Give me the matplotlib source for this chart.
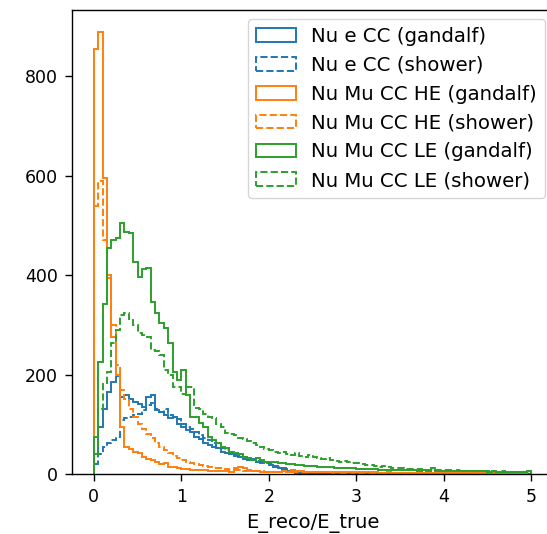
import matplotlib
matplotlib.use('Agg')
import matplotlib.pyplot as plt
import numpy as np

# 100 bins of width 0.05 between 0 and 5
bin_edges = np.linspace(0, 5, 101)

nue_gandalf = [
    40, 95, 130, 165, 185, 198, 155, 158, 150, 145,
    140, 135, 155, 158, 128, 125, 118, 112, 115, 100,
    95, 88, 85, 75, 70, 62, 58, 55, 52, 45,
    42, 40, 36, 35, 30, 28, 28, 25, 22, 25,
    18, 15, 12, 8, 6, 4, 3, 2, 2, 1,
    1, 1, 0, 1, 0, 0, 0, 0, 0, 0,
    0, 0, 0, 0, 0, 0, 0, 0, 0, 0,
    0, 0, 0, 0, 0, 0, 0, 0, 0, 0,
    0, 0, 0, 0, 0, 0, 0, 0, 0, 0,
    0, 0, 0, 0, 0, 0, 0, 0, 0, 0,
]
nue_shower = [
    20, 40, 55, 62, 68, 75, 108, 112, 115, 118,
    120, 128, 138, 142, 130, 125, 130, 118, 115, 110,
    100, 95, 90, 85, 78, 72, 68, 62, 55, 52,
    48, 45, 40, 38, 35, 32, 30, 26, 24, 22,
    20, 16, 14, 12, 10, 8, 6, 5, 4, 3,
    2, 2, 1, 1, 1, 0, 0, 0, 0, 0,
    0, 0, 0, 0, 0, 0, 0, 0, 0, 0,
    0, 0, 0, 0, 0, 0, 0, 0, 0, 0,
    0, 0, 0, 0, 0, 0, 0, 0, 0, 0,
    0, 0, 0, 0, 0, 0, 0, 0, 0, 0,
]
numu_he_gandalf = [
    855, 890, 595, 400, 275, 200, 95, 55, 50, 45,
    42, 35, 30, 28, 25, 20, 22, 15, 15, 12,
    10, 10, 9, 9, 8, 8, 7, 7, 6, 6,
    6, 5, 12, 14, 13, 8, 6, 6, 5, 5,
    5, 5, 5, 6, 5, 8, 7, 6, 5, 5,
    5, 5, 5, 4, 5, 4, 4, 4, 4, 4,
    4, 4, 4, 4, 4, 3, 3, 4, 3, 3,
    3, 3, 3, 3, 3, 3, 3, 3, 3, 3,
    3, 3, 3, 3, 2, 3, 3, 3, 3, 3,
    3, 3, 3, 2, 3, 3, 3, 3, 3, 7,
]
numu_he_shower = [
    540, 590, 470, 395, 300, 220, 170, 150, 130, 115,
    100, 90, 80, 72, 62, 55, 48, 42, 36, 32,
    28, 25, 22, 20, 18, 16, 14, 13, 12, 11,
    10, 9, 8, 8, 7, 7, 6, 6, 6, 5,
    5, 5, 5, 6, 5, 5, 4, 4, 4, 4,
    4, 4, 4, 4, 3, 4, 3, 3, 4, 3,
    3, 3, 3, 3, 3, 3, 3, 3, 3, 3,
    3, 2, 3, 3, 2, 3, 2, 2, 3, 2,
    2, 2, 2, 3, 2, 2, 2, 2, 2, 2,
    2, 2, 2, 2, 2, 2, 2, 2, 2, 6,
]
numu_le_gandalf = [
    75, 225, 343, 454, 470, 475, 504, 487, 484, 426,
    396, 412, 414, 346, 324, 303, 293, 263, 206, 189,
    209, 159, 115, 115, 102, 95, 75, 68, 62, 55,
    53, 45, 42, 40, 35, 32, 28, 32, 28, 25,
    25, 24, 22, 22, 20, 20, 18, 18, 17, 16,
    16, 15, 15, 14, 14, 13, 13, 12, 12, 12,
    11, 11, 10, 10, 10, 9, 9, 9, 9, 8,
    8, 8, 8, 8, 7, 8, 7, 12, 7, 7,
    7, 7, 6, 7, 6, 6, 6, 6, 6, 6,
    5, 6, 5, 5, 5, 5, 5, 5, 5, 6,
]
numu_le_shower = [
    40, 130, 183, 206, 263, 290, 320, 323, 310, 300,
    283, 280, 276, 250, 247, 240, 210, 200, 175, 175,
    160, 175, 175, 132, 130, 120, 115, 113, 100, 95,
    82, 80, 78, 72, 70, 66, 62, 58, 55, 50,
    48, 45, 42, 44, 40, 38, 42, 36, 35, 38,
    35, 32, 30, 32, 28, 27, 25, 26, 24, 22,
    22, 20, 18, 19, 16, 15, 16, 14, 13, 12,
    12, 11, 10, 11, 10, 9, 9, 10, 9, 8,
    8, 8, 7, 8, 7, 7, 6, 7, 6, 6,
    6, 6, 5, 6, 5, 5, 5, 5, 4, 5,
]

series = [
    ('Nu e CC (gandalf)', nue_gandalf, 'tab:blue', '-'),
    ('Nu e CC (shower)', nue_shower, 'tab:blue', '--'),
    ('Nu Mu CC HE (gandalf)', numu_he_gandalf, 'tab:orange', '-'),
    ('Nu Mu CC HE (shower)', numu_he_shower, 'tab:orange', '--'),
    ('Nu Mu CC LE (gandalf)', numu_le_gandalf, 'tab:green', '-'),
    ('Nu Mu CC LE (shower)', numu_le_shower, 'tab:green', '--'),
]

fig = plt.figure(figsize=(5.47, 5.34), dpi=100)
ax = fig.add_axes([72 / 547, 60 / 534, 481 / 547, 464.5 / 534])

centers = 0.5 * (bin_edges[:-1] + bin_edges[1:])
for label, counts, color, ls in series:
    ax.hist(centers, bins=bin_edges, weights=counts, histtype='step',
            color=color, linestyle=ls, linewidth=1.4, label=label)

ax.set_xticks([0, 1, 2, 3, 4, 5])
ax.set_yticks([0, 200, 400, 600, 800])
ax.tick_params(labelsize=12.5, length=5, width=1.0, pad=5)
for sp in ax.spines.values():
    sp.set_linewidth(1.0)
ax.set_xlabel('E_reco/E_true', fontsize=14, labelpad=6)

ax.legend(loc='upper right', bbox_to_anchor=(545 / 547, 1 - 19 / 534),
          bbox_transform=fig.transFigure, borderaxespad=0, fontsize=14.2)

fig.savefig('out.png', dpi=100)
